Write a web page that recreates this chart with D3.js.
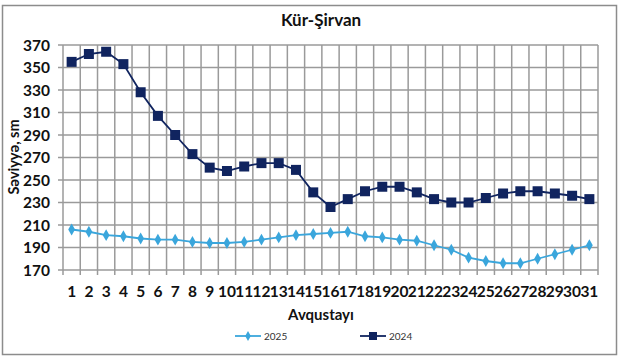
<!DOCTYPE html>
<html><head><meta charset="utf-8">
<script src="https://cdn.jsdelivr.net/npm/d3@7"></script>
<style>body{margin:0;background:#fff}svg{display:block}text{font-family:Lato,"Open Sans",sans-serif}</style>
</head><body>
<svg id="c" width="623" height="364"></svg>
<script>
const days = d3.range(1, 32).map(String);
const values2025 = [206,204,201,200,198,197,197,195,194,194,195,197,199,201,202,203,204,200,199,197,196,192,188,181,178,176,176,180,184,188,192];
const values2024 = [355,362,364,353,328,307,290,273,261,258,262,265,265,259,239,226,233,240,244,244,239,233,230,230,234,238,240,240,238,236,233];
const yTicks = [170,190,210,230,250,270,290,310,330,350,370];
const seriesNames = ["2025","2024"];
const colors = {"2025":"#3AA6DC","2024":"#10245F"};

const svg = d3.select("#c");
svg.append("rect").attr("x",2.5).attr("y",5.5).attr("width",614).attr("height",349)
  .attr("fill","#fff").attr("stroke","#8c8c8c").attr("stroke-width",1.5);

const L=63,R=598,T=45,B=270;
const x = d3.scaleBand().domain(days).range([L,R]);
const y = d3.scaleLinear().domain([170,370]).range([B,T]);

const g = svg.append("g");
g.selectAll(".hg").data(yTicks).join("line")
  .attr("x1",L-5).attr("x2",R).attr("y1",d=>y(d)).attr("y2",d=>y(d))
  .attr("stroke","#9a9a9a").attr("stroke-width",1.5);
const bounds = days.map(d=>x(d)).concat([R]);
g.selectAll(".vg").data(bounds).join("line")
  .attr("x1",d=>d).attr("x2",d=>d).attr("y1",T).attr("y2",B+5)
  .attr("stroke","#9a9a9a").attr("stroke-width",1.5);

g.selectAll(".yl").data(yTicks).join("text")
  .attr("x",50).attr("y",d=>y(d)).attr("dy","0.36em").attr("text-anchor","end")
  .attr("font-size",15.5).attr("font-weight","bold").attr("fill","#111").text(d=>d);
g.selectAll(".xl").data(days).join("text")
  .attr("x",d=>x(d)+x.bandwidth()/2).attr("y",297).attr("text-anchor","middle")
  .attr("font-size",15.5).attr("font-weight","bold").attr("fill","#111").text(d=>d);

svg.append("text").attr("x",321).attr("y",26).attr("text-anchor","middle")
  .attr("font-size",17).attr("font-weight","bold").attr("fill","#111").text("Kür-Şirvan");
svg.append("text").attr("x",321).attr("y",320).attr("text-anchor","middle")
  .attr("font-size",15).attr("font-weight","bold").attr("fill","#111").text("Avqustayı");
svg.append("text").attr("transform","translate(19,157) rotate(-90)").attr("text-anchor","middle")
  .attr("font-size",14.5).attr("font-weight","bold").attr("fill","#111").text("Səviyyə, sm");

const line = d3.line().x((d,i)=>x(days[i])+x.bandwidth()/2).y(d=>y(d));
const cx = i=>x(days[i])+x.bandwidth()/2;

svg.append("path").datum(values2025).attr("d",line).attr("fill","none")
  .attr("stroke",colors["2025"]).attr("stroke-width",1.8);
const diamond = d3.symbol().type(d3.symbolDiamond).size(40);
svg.selectAll(".m25").data(values2025).join("path")
  .attr("d",diamond).attr("transform",(d,i)=>`translate(${cx(i)},${y(d)})`).attr("fill",colors["2025"]);
svg.append("path").datum(values2024).attr("d",line).attr("fill","none")
  .attr("stroke",colors["2024"]).attr("stroke-width",1.8);
svg.selectAll(".m24").data(values2024).join("rect")
  .attr("x",(d,i)=>cx(i)-5).attr("y",d=>y(d)-5).attr("width",10).attr("height",10)
  .attr("fill",colors["2024"]);

const leg = [{n:"2025",x0:235},{n:"2024",x0:360}];
leg.forEach(l=>{
  const c=colors[l.n];
  svg.append("line").attr("x1",l.x0).attr("x2",l.x0+26).attr("y1",336).attr("y2",336).attr("stroke",c).attr("stroke-width",1.8);
  if(l.n==="2025") svg.append("path").attr("d",d3.symbol().type(d3.symbolDiamond).size(28)).attr("transform",`translate(${l.x0+13},336)`).attr("fill",c);
  else svg.append("rect").attr("x",l.x0+9).attr("y",332).attr("width",8).attr("height",8).attr("fill",c);
  svg.append("text").attr("x",l.x0+29).attr("y",336).attr("dy","0.35em").attr("font-size",10).attr("fill","#333")
    .attr("font-family","'Open Sans',sans-serif").text(l.n);
});
</script>
</body></html>
